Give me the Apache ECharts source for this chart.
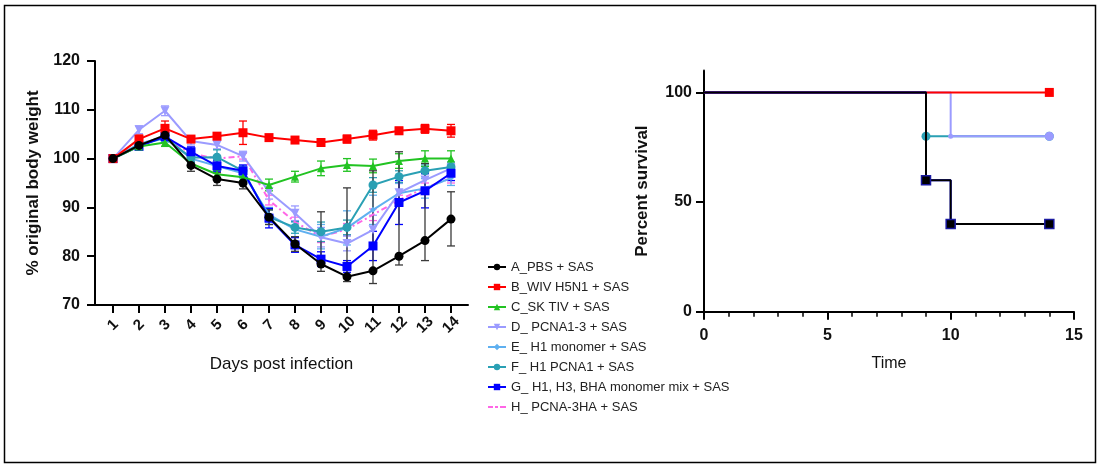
<!DOCTYPE html>
<html><head><meta charset="utf-8">
<script src="https://cdn.jsdelivr.net/npm/echarts@6/dist/echarts.min.js"></script>
<style>html,body{margin:0;padding:0;background:#fff}#c{width:1098px;height:467px}</style>
</head><body><div id="c"></div>
<script>
// ---------- DATA ----------
const days = [1,2,3,4,5,6,7,8,9,10,11,12,13,14];
const groupNames = ['A_PBS + SAS','B_WIV H5N1 + SAS','C_SK TIV + SAS','D_ PCNA1-3 + SAS','E_ H1 monomer + SAS','F_ H1 PCNA1 + SAS','G_ H1, H3, BHA monomer mix + SAS','H_ PCNA-3HA + SAS'];
const A_mean = [100,102.7,104.8,98.6,95.8,95.0,88.0,82.5,78.4,75.8,77.0,80.0,83.2,87.6];
const A_errUp = [0,0.6,0.8,1.2,1.3,1.2,1.5,1.5,10.7,18.2,20.5,21.4,15.8,5.6];
const A_errDn = [0,0.6,0.8,1.2,1.3,1.2,1.5,1.5,1.5,1.0,2.6,1.8,4.1,5.5];
const B_mean = [100,104.0,106.2,104.0,104.6,105.3,104.3,103.8,103.3,104.0,104.8,105.7,106.1,105.7];
const B_sd = [0,0.8,1.5,0.7,0.7,2.4,0.6,0.5,0.5,0.8,1.0,0.7,0.9,1.3];
const C_mean = [100,102.5,103.3,99.0,96.8,96.2,94.6,96.3,98.0,98.7,98.5,99.5,100.0,100.0];
const C_sd = [0,0.5,0.8,0.8,0.8,1.0,1.2,1.1,1.5,1.3,1.4,1.5,1.6,1.6];
const D_mean = [100,105.9,109.8,103.6,102.8,100.5,93.2,88.8,83.9,82.6,85.4,93.0,95.6,98.0];
const D_sd = [0,0.8,1.0,0.8,0.8,1.0,1.5,1.5,2.0,1.5,3.0,2.0,1.5,1.0];
const E_mean = [100,103.0,104.5,100.0,98.5,97.0,88.5,85.5,84.0,85.8,89.5,92.9,93.9,96.0];
const E_sd = [0,0.5,0.8,0.8,1.0,1.0,1.5,1.5,2.5,3.5,3.0,2.0,2.0,1.5];
const F_mean = [100,102.8,104.2,100.2,100.3,97.5,88.0,85.9,85.0,85.9,94.6,96.3,97.5,98.3];
const F_sd = [0,0.5,0.8,0.8,1.5,1.0,1.5,1.2,2.0,1.5,1.5,1.2,1.2,1.0];
const G_mean = [100,102.5,104.5,101.4,98.5,97.5,87.8,82.3,79.4,77.9,82.1,91.0,93.4,97.0];
const G_sd = [0,0.5,0.8,1.0,1.2,1.2,2.0,1.5,1.5,1.2,3.0,4.5,3.5,1.5];
const H_mean = [100,103.0,104.5,101.0,100.0,100.5,91.5,87.0,84.0,85.5,88.5,91.5,94.0,96.0];
const H_sd = [0,0.4,0.6,0.6,0.6,0.6,1.0,1.0,1.2,1.2,1.2,1.0,1.0,1.0];

// survival (Kaplan-Meier)
const survA_t = [0,9,10,14], survA = [100,60,40,40];
const survB_t = [0,14], survB = [100,100];
const survD_t = [0,10,14], survD = [100,80,80];
const survF_t = [0,9,14], survF = [100,80,80];
const survG_t = [0,9,10,14], survG = [100,60,40,40];
const survYTicks = [0,50,100];

// ---------- CHART ----------
const colors = {A:'#000000',B:'#ff0000',C:'#22c322',D:'#9b9bff',E:'#5fb0f0',F:'#2aa0b4',G:'#0000ff',H:'#ff66e6'};
const pts = m => days.map((d,i)=>[d,m[i]]);
function errData(m,up,dn){ return days.map((d,i)=>[d,m[i]-dn[i],m[i]+up[i]]); }
function errSeries(m,up,dn,color,z){
  return {type:'custom',xAxisIndex:0,yAxisIndex:0,z:z,silent:true,
    data:errData(m,up,dn),encode:{x:0,y:[1,2]},
    renderItem:function(params,api){
      const x=api.value(0), lo=api.value(1), hi=api.value(2);
      if(hi-lo<=0) return null;
      const p1=api.coord([x,hi]), p2=api.coord([x,lo]); const w=4;
      const st={stroke:color,lineWidth:1.3,fill:null};
      return {type:'group',children:[
        {type:'line',shape:{x1:p1[0],y1:p1[1],x2:p2[0],y2:p2[1]},style:st},
        {type:'line',shape:{x1:p1[0]-w,y1:p1[1],x2:p1[0]+w,y2:p1[1]},style:st},
        {type:'line',shape:{x1:p2[0]-w,y1:p2[1],x2:p2[0]+w,y2:p2[1]},style:st}]};
    }};
}
function lineSeries(name,m,color,symbol,size,z,dash){
  return {name:name,type:'line',xAxisIndex:0,yAxisIndex:0,data:pts(m),z:z,
    symbol:symbol,symbolSize:size,showSymbol:symbol!=='none',
    lineStyle:{color:color,width:2,type:dash||'solid'},itemStyle:{color:color},
    emphasis:{disabled:true}};
}
function survSeries(name,t,v,color,symbol,size,z,border){
  return {name:name+' ',type:'line',xAxisIndex:1,yAxisIndex:1,step:'end',z:z,
    data:t.map((x,i)=> i===0?{value:[x,v[i]],symbol:'none'}:{value:[x,v[i]]}),
    symbol:symbol,symbolSize:size,
    lineStyle:{color:color,width:2},
    itemStyle:{color:color,borderColor:border||color,borderWidth:border?1.5:0},
    emphasis:{disabled:true}};
}
const axisTxt = {color:'#111',fontFamily:'Liberation Sans, Arial, sans-serif'};
const legendData = groupNames.map((n,i)=> i===7
  ? {name:n,icon:'path://M0,0M18,8M0,3h5v2h-5zM7,3h3v2h-3zM12,3h6v2h-6z'}
  : {name:n});

const option = {
  animation:false,
  backgroundColor:'#fff',
  graphic:[{type:'rect',shape:{x:4.5,y:5.5,width:1091,height:457},style:{fill:null,stroke:'#000',lineWidth:1.5},silent:true}],
  grid:[{left:95,top:61,width:373,height:244},{left:704,top:70.5,width:370,height:241.2}],
  legend:{left:482,top:255,orient:'vertical',itemWidth:18,itemHeight:8,itemGap:6,
    data:legendData,
    textStyle:{fontSize:13,lineHeight:14,color:'#222',fontFamily:'Liberation Sans, Arial, sans-serif'}},
  xAxis:[
    {type:'value',gridIndex:0,min:0.308,max:14.654,
      axisLine:{show:true,onZero:false,lineStyle:{color:'#000',width:2}},
      axisTick:{show:true,length:8,lineStyle:{color:'#000',width:2},customValues:days},
      axisLabel:{customValues:days,rotate:45,margin:20,align:'center',verticalAlign:'middle',fontSize:15,fontWeight:'bold',...axisTxt},
      splitLine:{show:false},
      name:'Days post infection',nameLocation:'middle',nameGap:51,
      nameTextStyle:{fontSize:17,...axisTxt}},
    {type:'value',gridIndex:1,min:0,max:15,interval:5,
      axisLine:{show:true,onZero:false,lineStyle:{color:'#000',width:2}},
      axisTick:{show:true,length:8,lineStyle:{color:'#000',width:2}},
      minorTick:{show:true,splitNumber:5,length:5,lineStyle:{color:'#000',width:1.5}},
      axisLabel:{margin:16,fontSize:16,fontWeight:'bold',...axisTxt},
      splitLine:{show:false},
      name:'Time',nameLocation:'middle',nameGap:44,
      nameTextStyle:{fontSize:16,...axisTxt}}
  ],
  yAxis:[
    {type:'value',gridIndex:0,min:70,max:120,interval:10,
      axisLine:{show:true,lineStyle:{color:'#000',width:2}},
      axisTick:{show:true,length:8,lineStyle:{color:'#000',width:2}},
      axisLabel:{margin:15,fontSize:16,fontWeight:'bold',...axisTxt},
      splitLine:{show:false},
      name:'% original body weight',nameLocation:'middle',nameGap:53,
      nameTextStyle:{fontSize:17,fontWeight:'bold',...axisTxt}},
    {type:'value',gridIndex:1,min:0,max:110,
      axisLine:{show:true,lineStyle:{color:'#000',width:2}},
      axisTick:{show:true,length:8,lineStyle:{color:'#000',width:2},customValues:survYTicks},
      axisLabel:{customValues:survYTicks,margin:12,fontSize:16,fontWeight:'bold',...axisTxt},
      splitLine:{show:false},
      name:'Percent survival',nameLocation:'middle',nameGap:53,
      nameTextStyle:{fontSize:17,fontWeight:'bold',...axisTxt}}
  ],
  series:[
    errSeries(H_mean,H_sd,H_sd,colors.H,2),
    errSeries(E_mean,E_sd,E_sd,colors.E,2),
    errSeries(D_mean,D_sd,D_sd,colors.D,2),
    errSeries(F_mean,F_sd,F_sd,colors.F,2),
    errSeries(G_mean,G_sd,G_sd,colors.G,2),
    errSeries(C_mean,C_sd,C_sd,colors.C,2),
    errSeries(B_mean,B_sd,B_sd,colors.B,2),
    errSeries(A_mean,A_errUp,A_errDn,'#3a3a3a',2),
    lineSeries(groupNames[7],H_mean,colors.H,'none',0,3,[6,3,2,3]),
    lineSeries(groupNames[4],E_mean,colors.E,'diamond',6,4),
    lineSeries(groupNames[3],D_mean,colors.D,'triangle',9,5),
    lineSeries(groupNames[5],F_mean,colors.F,'circle',9,6),
    lineSeries(groupNames[6],G_mean,colors.G,'rect',9,7),
    lineSeries(groupNames[2],C_mean,colors.C,'triangle',8,8),
    lineSeries(groupNames[1],B_mean,colors.B,'rect',9,9),
    lineSeries(groupNames[0],A_mean,colors.A,'circle',9,10),
    survSeries('F',survF_t,survF,colors.F,'circle',9,3),
    survSeries('D',survD_t,survD,colors.D,'circle',9,4),
    survSeries('B',survB_t,survB,colors.B,'rect',9,5),
    survSeries('G',survG_t,survG,colors.G,'rect',9,6),
    survSeries('A',survA_t,survA,colors.A,'rect',9,7,'#1a1aa0')
  ]
};
option.series.forEach(s=>{
  if(s.name===groupNames[3]) s.symbolRotate=180;
  if(s.name==='D ') s.symbolSize=(v,p)=> p.dataIndex===survD_t.length-1 ? 9 : 5;
});
const chart = echarts.init(document.getElementById('c'),null,{renderer:'canvas'});
chart.setOption(option);
</script>
</body></html>
